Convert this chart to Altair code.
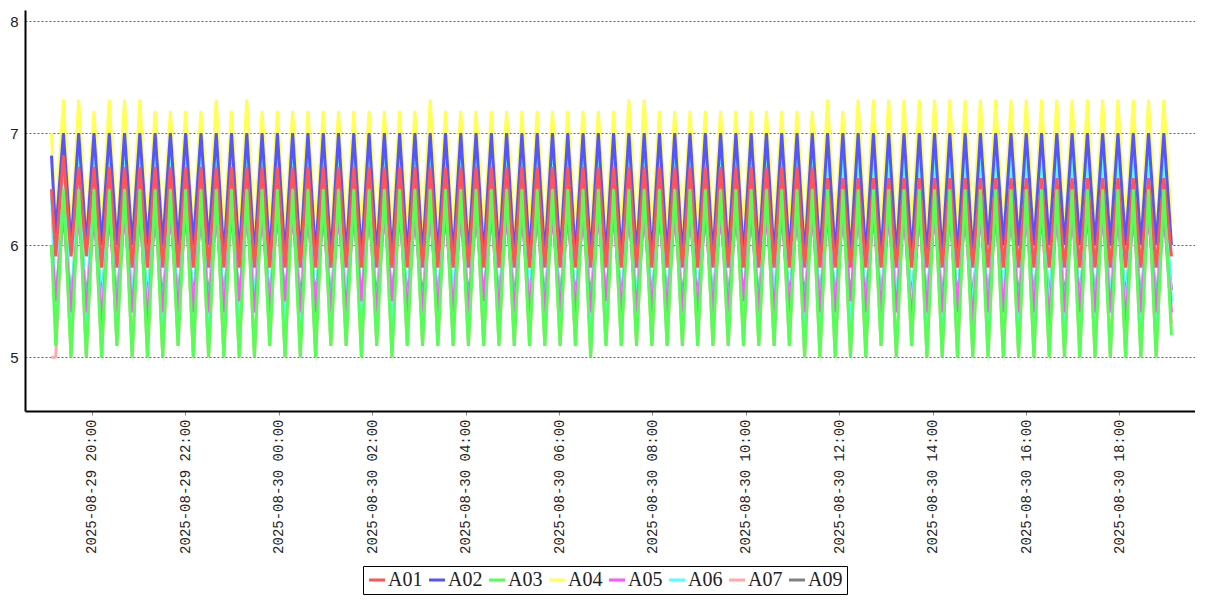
import altair as alt
import pandas as pd

series_names = ["A01", "A02", "A03", "A04", "A05", "A06", "A07", "A09"]
series_colors = ["#ff5555", "#5555ff", "#55ff55", "#ffff55", "#ff55ff", "#55ffff", "#ffaaaa", "#808080"]
draw_order = ["A09", "A07", "A06", "A05", "A04", "A02", "A01", "A03"]

# sample times: two first samples, then regular sampling
time_first = ["2025-08-29T19:08:00", "2025-08-29T19:13:30"]
time_regular_start = "2025-08-29 19:23:20"
time_regular_step = "589s"
time_regular_count = 146

# each series: start value, 73 peak values, 74 trough values (last = final value)
start_values = {"A01": 6.5, "A02": 6.8, "A03": 6.0, "A04": 7.0,
                "A05": 6.0, "A06": 6.5, "A07": 5.0, "A09": 6.0}

A01_peaks = [6.8, 6.7, 6.7, 6.7, 6.7, 6.7, 6.7, 6.7, 6.7, 6.7,
             6.7, 6.7, 6.7, 6.7, 6.7, 6.7, 6.7, 6.7, 6.7, 6.7,
             6.7, 6.7, 6.7, 6.7, 6.7, 6.7, 6.7, 6.7, 6.7, 6.7,
             6.7, 6.7, 6.7, 6.7, 6.7, 6.7, 6.7, 6.7, 6.7, 6.7,
             6.7, 6.7, 6.7, 6.7, 6.7, 6.7, 6.7, 6.7, 6.7, 6.7,
             6.6, 6.6, 6.6, 6.6, 6.6, 6.6, 6.6, 6.6, 6.6, 6.6,
             6.6, 6.6, 6.6, 6.6, 6.6, 6.6, 6.6, 6.6, 6.6, 6.6,
             6.6, 6.6, 6.6]
A01_troughs = [5.9, 5.9, 5.9, 5.8, 5.8, 5.8, 5.8, 5.8, 5.8, 5.8,
               5.8, 5.8, 5.8, 5.8, 5.8, 5.8, 5.8, 5.8, 5.8, 5.8,
               5.8, 5.8, 5.8, 5.8, 5.8, 5.8, 5.8, 5.8, 5.8, 5.8,
               5.8, 5.8, 5.8, 5.8, 5.8, 5.8, 5.8, 5.8, 5.8, 5.8,
               5.8, 5.8, 5.8, 5.8, 5.8, 5.8, 5.8, 5.8, 5.8, 5.8,
               5.8, 5.8, 5.8, 5.8, 5.8, 5.8, 5.8, 5.8, 5.8, 5.8,
               5.8, 5.8, 5.8, 5.8, 5.8, 5.8, 5.8, 5.8, 5.8, 5.8,
               5.8, 5.8, 5.8, 5.9]

A02_peaks = [7.0, 7.0, 7.0, 7.0, 7.0, 7.0, 7.0, 7.0, 7.0, 7.0,
             7.0, 7.0, 7.0, 7.0, 7.0, 7.0, 7.0, 7.0, 7.0, 7.0,
             7.0, 7.0, 7.0, 7.0, 7.0, 7.0, 7.0, 7.0, 7.0, 7.0,
             7.0, 7.0, 7.0, 7.0, 7.0, 7.0, 7.0, 7.0, 7.0, 7.0,
             7.0, 7.0, 7.0, 7.0, 7.0, 7.0, 7.0, 7.0, 7.0, 7.0,
             7.0, 7.0, 7.0, 7.0, 7.0, 7.0, 7.0, 7.0, 7.0, 7.0,
             7.0, 7.0, 7.0, 7.0, 7.0, 7.0, 7.0, 7.0, 7.0, 7.0,
             7.0, 7.0, 7.0]
A02_troughs = [6.1, 6.0, 6.0, 6.0, 6.0, 6.0, 6.0, 6.0, 6.0, 6.0,
               6.0, 5.9, 5.9, 5.9, 5.9, 5.9, 5.9, 5.9, 5.9, 5.9,
               5.9, 5.9, 5.9, 5.9, 5.9, 5.9, 5.9, 5.9, 5.9, 5.9,
               5.9, 5.9, 5.9, 5.9, 5.9, 5.9, 5.9, 5.9, 5.9, 5.9,
               5.9, 5.9, 5.9, 5.9, 5.9, 5.9, 5.9, 5.9, 5.9, 5.9,
               5.9, 5.9, 5.9, 5.9, 5.9, 5.9, 5.9, 5.9, 5.9, 5.9,
               5.9, 6.0, 6.0, 6.0, 6.0, 6.0, 6.0, 6.0, 6.0, 6.0,
               6.0, 6.0, 6.0, 6.0]

A03_peaks = [6.5, 6.5, 6.5, 6.5, 6.5, 6.5, 6.5, 6.5, 6.5, 6.5,
             6.5, 6.5, 6.5, 6.5, 6.5, 6.5, 6.5, 6.5, 6.5, 6.5,
             6.5, 6.5, 6.5, 6.5, 6.5, 6.5, 6.5, 6.5, 6.5, 6.5,
             6.5, 6.5, 6.5, 6.5, 6.5, 6.5, 6.5, 6.5, 6.5, 6.5,
             6.5, 6.5, 6.5, 6.5, 6.5, 6.5, 6.5, 6.5, 6.5, 6.5,
             6.5, 6.5, 6.5, 6.5, 6.5, 6.5, 6.5, 6.5, 6.5, 6.5,
             6.5, 6.5, 6.5, 6.5, 6.5, 6.5, 6.5, 6.5, 6.5, 6.5,
             6.5, 6.5, 6.5]
A03_troughs = [5.1, 5.0, 5.0, 5.0, 5.1, 5.0, 5.0, 5.0, 5.1, 5.0,
               5.0, 5.0, 5.0, 5.0, 5.1, 5.0, 5.0, 5.0, 5.1, 5.1,
               5.0, 5.1, 5.0, 5.1, 5.1, 5.1, 5.1, 5.1, 5.1, 5.1,
               5.1, 5.1, 5.1, 5.1, 5.1, 5.0, 5.1, 5.1, 5.1, 5.1,
               5.1, 5.1, 5.1, 5.1, 5.1, 5.1, 5.1, 5.1, 5.1, 5.0,
               5.0, 5.0, 5.0, 5.0, 5.1, 5.0, 5.1, 5.0, 5.0, 5.0,
               5.0, 5.0, 5.0, 5.0, 5.0, 5.0, 5.0, 5.0, 5.0, 5.0,
               5.0, 5.0, 5.0, 5.2]

A04_peaks = [7.3, 7.3, 7.2, 7.3, 7.3, 7.3, 7.2, 7.2, 7.2, 7.2,
             7.3, 7.2, 7.3, 7.2, 7.2, 7.2, 7.2, 7.2, 7.2, 7.2,
             7.2, 7.2, 7.2, 7.2, 7.3, 7.2, 7.2, 7.2, 7.2, 7.2,
             7.2, 7.2, 7.2, 7.2, 7.2, 7.2, 7.2, 7.3, 7.3, 7.2,
             7.2, 7.2, 7.2, 7.2, 7.2, 7.2, 7.2, 7.2, 7.2, 7.2,
             7.3, 7.2, 7.3, 7.3, 7.3, 7.3, 7.3, 7.3, 7.3, 7.3,
             7.3, 7.3, 7.3, 7.3, 7.3, 7.3, 7.3, 7.3, 7.3, 7.3,
             7.3, 7.3, 7.3]
A04_troughs = [6.2, 6.1, 6.1, 6.1, 6.1, 6.1, 6.1, 6.1, 6.1, 6.1,
               6.1, 6.1, 6.1, 6.1, 6.1, 6.1, 6.1, 6.1, 6.1, 6.1,
               6.1, 6.1, 6.1, 6.1, 6.1, 6.1, 6.1, 6.1, 6.1, 6.1,
               6.1, 6.1, 6.1, 6.1, 6.1, 6.1, 6.1, 6.1, 6.1, 6.1,
               6.1, 6.1, 6.1, 6.1, 6.1, 6.1, 6.1, 6.1, 6.1, 6.1,
               6.1, 6.1, 6.1, 6.1, 6.1, 6.1, 6.1, 6.1, 6.1, 6.1,
               6.1, 6.1, 6.1, 6.1, 6.1, 6.1, 6.1, 6.1, 6.1, 6.1,
               6.1, 6.1, 6.1, 6.2]

A05_peaks = [6.3, 6.3, 6.3, 6.3, 6.3, 6.3, 6.3, 6.3, 6.3, 6.3,
             6.3, 6.3, 6.3, 6.3, 6.3, 6.3, 6.3, 6.3, 6.3, 6.3,
             6.3, 6.3, 6.3, 6.3, 6.3, 6.3, 6.3, 6.3, 6.3, 6.3,
             6.3, 6.3, 6.3, 6.3, 6.3, 6.3, 6.3, 6.3, 6.3, 6.3,
             6.3, 6.3, 6.3, 6.3, 6.3, 6.3, 6.3, 6.3, 6.3, 6.3,
             6.3, 6.3, 6.3, 6.3, 6.3, 6.3, 6.3, 6.3, 6.3, 6.3,
             6.3, 6.3, 6.3, 6.3, 6.3, 6.3, 6.3, 6.3, 6.3, 6.3,
             6.3, 6.3, 6.3]
A05_troughs = [5.5, 5.4, 5.4, 5.3, 5.4, 5.4, 5.3, 5.4, 5.4, 5.4,
               5.4, 5.4, 5.5, 5.4, 5.4, 5.5, 5.4, 5.4, 5.4, 5.4,
               5.5, 5.4, 5.5, 5.4, 5.4, 5.4, 5.4, 5.4, 5.5, 5.4,
               5.4, 5.4, 5.4, 5.4, 5.4, 5.4, 5.5, 5.4, 5.4, 5.4,
               5.4, 5.4, 5.4, 5.4, 5.4, 5.5, 5.4, 5.4, 5.4, 5.4,
               5.4, 5.4, 5.5, 5.4, 5.4, 5.4, 5.3, 5.4, 5.4, 5.4,
               5.3, 5.4, 5.4, 5.4, 5.4, 5.3, 5.4, 5.4, 5.4, 5.4,
               5.3, 5.4, 5.4, 5.4]

A06_peaks = [6.8, 6.8, 6.8, 6.8, 6.8, 6.8, 6.8, 6.8, 6.8, 6.8,
             6.8, 6.8, 6.8, 6.8, 6.8, 6.8, 6.8, 6.8, 6.8, 6.8,
             6.8, 6.8, 6.8, 6.8, 6.8, 6.8, 6.8, 6.8, 6.8, 6.8,
             6.8, 6.8, 6.8, 6.8, 6.8, 6.8, 6.8, 6.8, 6.8, 6.8,
             6.8, 6.8, 6.8, 6.8, 6.8, 6.8, 6.8, 6.8, 6.8, 6.8,
             6.8, 6.8, 6.8, 6.8, 6.8, 6.8, 6.8, 6.8, 6.8, 6.8,
             6.8, 6.8, 6.8, 6.8, 6.8, 6.8, 6.8, 6.8, 6.8, 6.8,
             6.8, 6.8, 6.8]
A06_troughs = [5.3, 5.3, 5.3, 5.3, 5.3, 5.4, 5.3, 5.3, 5.3, 5.3,
               5.3, 5.3, 5.3, 5.4, 5.3, 5.3, 5.3, 5.3, 5.3, 5.4,
               5.3, 5.3, 5.3, 5.3, 5.3, 5.3, 5.4, 5.3, 5.3, 5.3,
               5.3, 5.4, 5.3, 5.3, 5.3, 5.3, 5.3, 5.3, 5.4, 5.3,
               5.3, 5.3, 5.3, 5.3, 5.3, 5.3, 5.3, 5.4, 5.3, 5.3,
               5.3, 5.3, 5.3, 5.3, 5.3, 5.4, 5.3, 5.3, 5.3, 5.3,
               5.3, 5.3, 5.4, 5.3, 5.3, 5.3, 5.3, 5.3, 5.3, 5.4,
               5.3, 5.3, 5.3, 5.5]

A07_peaks = [6.5, 6.5, 6.5, 6.5, 6.5, 6.5, 6.5, 6.5, 6.5, 6.5,
             6.5, 6.5, 6.5, 6.5, 6.5, 6.5, 6.5, 6.5, 6.5, 6.5,
             6.5, 6.5, 6.5, 6.5, 6.5, 6.5, 6.5, 6.5, 6.5, 6.5,
             6.5, 6.5, 6.5, 6.5, 6.5, 6.5, 6.5, 6.5, 6.5, 6.5,
             6.5, 6.5, 6.5, 6.5, 6.5, 6.5, 6.5, 6.5, 6.5, 6.5,
             6.5, 6.5, 6.5, 6.5, 6.5, 6.5, 6.5, 6.5, 6.5, 6.5,
             6.5, 6.5, 6.5, 6.5, 6.5, 6.5, 6.5, 6.5, 6.5, 6.5,
             6.5, 6.5, 6.5]
A07_troughs = [5.0, 5.0, 5.0, 5.0, 5.1, 5.0, 5.0, 5.0, 5.1, 5.0,
               5.0, 5.0, 5.0, 5.0, 5.1, 5.0, 5.0, 5.0, 5.1, 5.1,
               5.0, 5.1, 5.0, 5.1, 5.1, 5.1, 5.1, 5.1, 5.1, 5.1,
               5.1, 5.1, 5.1, 5.1, 5.1, 5.0, 5.1, 5.1, 5.1, 5.1,
               5.1, 5.1, 5.1, 5.1, 5.1, 5.1, 5.1, 5.1, 5.1, 5.0,
               5.0, 5.0, 5.0, 5.0, 5.1, 5.0, 5.1, 5.0, 5.0, 5.0,
               5.0, 5.0, 5.0, 5.0, 5.0, 5.0, 5.0, 5.0, 5.0, 5.0,
               5.0, 5.0, 5.0, 5.3]

A09_peaks = [6.3, 6.3, 6.3, 6.3, 6.3, 6.3, 6.3, 6.3, 6.3, 6.3,
             6.3, 6.3, 6.3, 6.3, 6.3, 6.3, 6.3, 6.3, 6.3, 6.3,
             6.3, 6.3, 6.3, 6.3, 6.3, 6.3, 6.3, 6.3, 6.3, 6.3,
             6.3, 6.3, 6.3, 6.3, 6.3, 6.3, 6.3, 6.3, 6.3, 6.3,
             6.3, 6.3, 6.3, 6.3, 6.3, 6.3, 6.3, 6.3, 6.3, 6.3,
             6.3, 6.3, 6.3, 6.3, 6.3, 6.3, 6.3, 6.3, 6.3, 6.3,
             6.3, 6.3, 6.3, 6.3, 6.3, 6.3, 6.3, 6.3, 6.3, 6.3,
             6.3, 6.3, 6.3]
A09_troughs = [5.5, 5.5, 5.5, 5.5, 5.5, 5.5, 5.5, 5.5, 5.5, 5.5,
               5.5, 5.5, 5.5, 5.5, 5.5, 5.5, 5.5, 5.5, 5.5, 5.5,
               5.5, 5.5, 5.5, 5.5, 5.5, 5.5, 5.5, 5.5, 5.5, 5.5,
               5.5, 5.5, 5.5, 5.5, 5.5, 5.5, 5.5, 5.5, 5.5, 5.5,
               5.5, 5.5, 5.5, 5.5, 5.5, 5.5, 5.5, 5.5, 5.5, 5.5,
               5.5, 5.5, 5.5, 5.5, 5.5, 5.5, 5.5, 5.5, 5.5, 5.5,
               5.5, 5.5, 5.5, 5.5, 5.5, 5.5, 5.5, 5.5, 5.5, 5.5,
               5.5, 5.5, 5.5, 5.6]

peaks = {"A01": A01_peaks, "A02": A02_peaks, "A03": A03_peaks, "A04": A04_peaks,
         "A05": A05_peaks, "A06": A06_peaks, "A07": A07_peaks, "A09": A09_peaks}
troughs = {"A01": A01_troughs, "A02": A02_troughs, "A03": A03_troughs, "A04": A04_troughs,
           "A05": A05_troughs, "A06": A06_troughs, "A07": A07_troughs, "A09": A09_troughs}

x_tick_values = [
    alt.DateTime(year=2025, month=8, date=29, hours=20),
    alt.DateTime(year=2025, month=8, date=29, hours=22),
    alt.DateTime(year=2025, month=8, date=30, hours=0),
    alt.DateTime(year=2025, month=8, date=30, hours=2),
    alt.DateTime(year=2025, month=8, date=30, hours=4),
    alt.DateTime(year=2025, month=8, date=30, hours=6),
    alt.DateTime(year=2025, month=8, date=30, hours=8),
    alt.DateTime(year=2025, month=8, date=30, hours=10),
    alt.DateTime(year=2025, month=8, date=30, hours=12),
    alt.DateTime(year=2025, month=8, date=30, hours=14),
    alt.DateTime(year=2025, month=8, date=30, hours=16),
    alt.DateTime(year=2025, month=8, date=30, hours=18),
]
x_domain = [alt.DateTime(year=2025, month=8, date=29, hours=18, minutes=34),
            alt.DateTime(year=2025, month=8, date=30, hours=19, minutes=37)]
y_domain = [4.52, 8.1]
y_tick_values = [5, 6, 7, 8]

# ---- build table ----
times = list(time_first) + [
    t.strftime("%Y-%m-%dT%H:%M:%S")
    for t in pd.date_range(time_regular_start, periods=time_regular_count, freq=time_regular_step)
]
rows = []
for name in series_names:
    vals = [start_values[name], troughs[name][0]]
    for p, tr in zip(peaks[name], troughs[name][1:]):
        vals.append(p)
        vals.append(tr)
    for t, v in zip(times, vals):
        rows.append({"time": t, "series": name, "value": v})
df = pd.DataFrame(rows)

color = alt.Color(
    "series:N",
    scale=alt.Scale(domain=series_names, range=series_colors),
    legend=alt.Legend(
        title=None, orient="none", legendX=338, legendY=556,
        direction="horizontal", columns=8, symbolType="stroke",
        symbolSize=256, symbolStrokeWidth=3, labelFont="Liberation Serif",
        labelFontSize=20, labelColor="#222", labelOffset=1, columnPadding=0,
        padding=4, strokeColor="black", fillColor="white",
    ),
)
x = alt.X(
    "time:T",
    scale=alt.Scale(domain=x_domain),
    axis=alt.Axis(
        title=None, values=x_tick_values, format="%Y-%m-%d  %H:%M",
        labelAngle=270, labelFont="Liberation Mono", labelFontSize=14,
        labelColor="#222", tickSize=4, tickColor="#888", labelPadding=4,
        domainColor="black", domainWidth=2, grid=False, labelOverlap=False,
        labelFlush=False,
    ),
)
y = alt.Y(
    "value:Q",
    scale=alt.Scale(domain=y_domain, nice=False, zero=False),
    axis=alt.Axis(
        title=None, values=y_tick_values, labelFont="Liberation Sans",
        labelFontSize=15, labelColor="#222", ticks=False, labelPadding=7,
        domainColor="black", domainWidth=2, grid=True, gridDash=[2, 2],
        gridColor="#666", gridWidth=1, minExtent=17, maxExtent=17,
    ),
)

layers = []
for name in draw_order:
    layers.append(
        alt.Chart(df)
        .transform_filter(alt.datum.series == name)
        .mark_line(strokeWidth=3, strokeJoin="bevel")
        .encode(x=x, y=y, color=color)
    )

chart = (
    alt.layer(*layers)
    .properties(width=1170, height=401, padding={"left": 0, "top": 2, "right": 0, "bottom": 0})
    .configure(background="white")
    .configure_view(stroke=None, strokeWidth=0)
)
chart.save("out.html", embed_options={"renderer": "svg", "actions": False})
